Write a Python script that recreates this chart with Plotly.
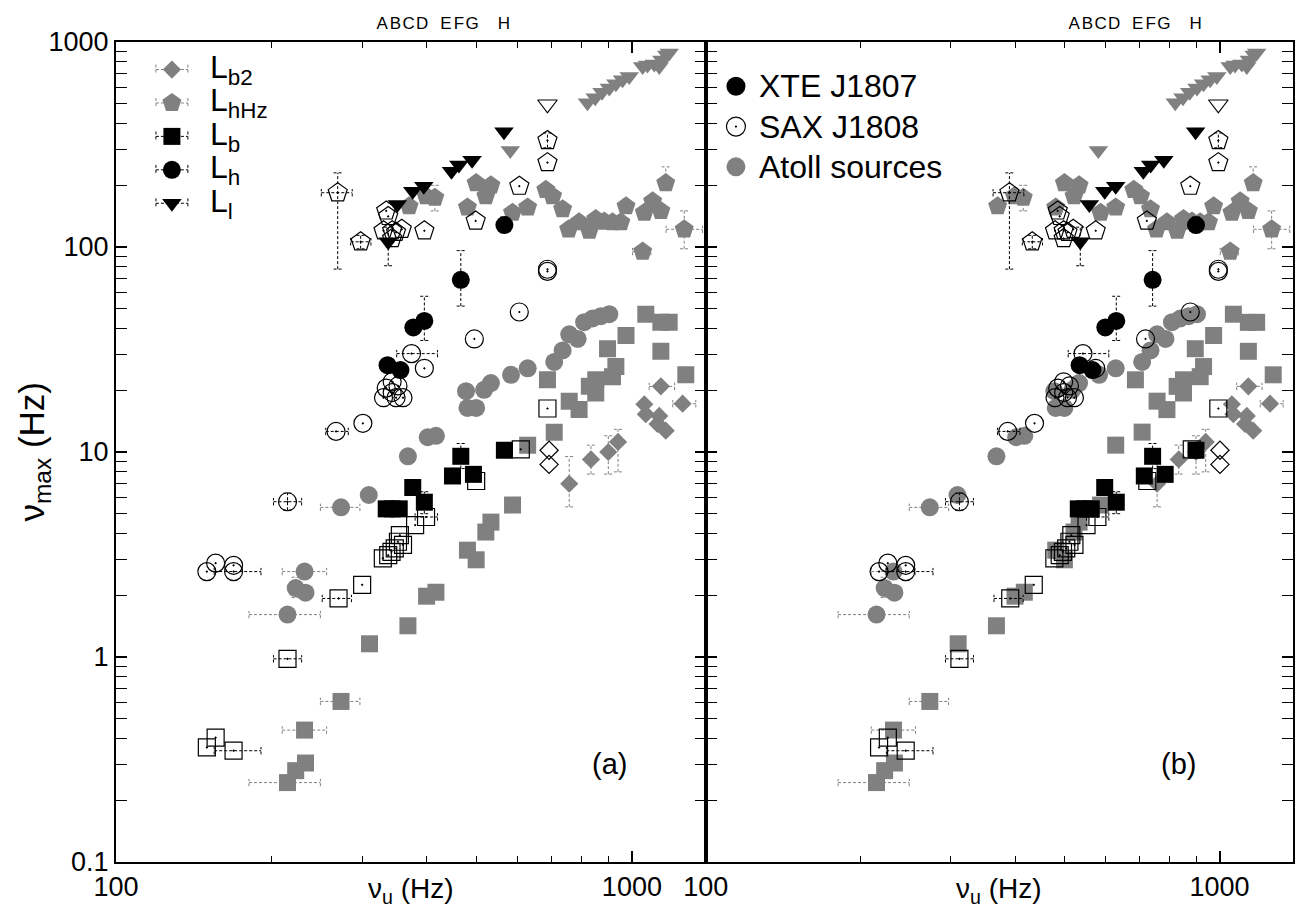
import numpy as np
import plotly.graph_objects as go

# ---------------- data ----------------
# Atoll sources (grey)
ATOLL_LB2_NU = [756, 833, 900, 940, 1057, 1064, 1121, 1130, 1138, 1163, 1254]
ATOLL_LB2_NMAX = [7.0, 9.2, 10.0, 11.2, 17.1, 15.3, 13.7, 15.0, 20.9, 12.7, 17.2]
ATOLL_LB2_ERR = {0: (None, None, 5.4, 9.5), 1: (None, None, 7.8, 10.8), 2: (None, None, 7.8, 12.0),
                 3: (None, None, 8.0, 12.9), 8: (1080, 1210, None, None), 10: (1200, 1330, None, None)}

ATOLL_LHHZ_NU = [370, 399, 415, 480, 499, 521, 533, 587, 628, 681, 702, 734, 754, 790, 827, 851,
                 884, 917, 952, 974, 1049, 1057, 1097, 1138, 1163, 1263]
ATOLL_LHHZ_NMAX = [158, 177, 174, 156, 205, 177, 200, 147, 156, 190, 177, 153, 122, 132, 120, 137,
                   133, 132, 132, 158, 95, 147, 167, 150, 205, 122]
ATOLL_LHHZ_ERR = {2: (None, None, 150, 200), 20: (1003, 1088, None, None),
                  25: (1165, 1370, 98, 150), 24: (None, None, 197, 246)}

ATOLL_LB_NU = [215, 223, 233, 232, 273, 310, 368, 400, 417, 480, 499, 521, 533, 587, 628, 707, 686,
               756, 790, 827, 851, 851, 917, 931, 897, 974, 1138, 1064, 1138, 1181, 1272]
ATOLL_LB_NMAX = [0.244, 0.279, 0.304, 0.44, 0.607, 1.16, 1.42, 1.98, 2.07, 3.32, 2.98, 4.07, 4.55,
                 5.51, 10.8, 12.5, 22.5, 17.7, 16.1, 20.9, 19.4, 22.5, 23.3, 26.1, 31.9, 37.0, 31.0,
                 47.0, 42.9, 42.9, 23.8]
ATOLL_LB_ERR = {0: (181, 249, None, None), 3: (210, 256, None, None), 4: (249, 297, None, None)}

ATOLL_LH_NU = [215, 223, 233, 232, 273, 309, 368, 402, 417, 477, 480, 499, 517, 533, 583, 628, 707,
               734, 756, 785, 808, 839, 871, 904]
ATOLL_LH_NMAX = [1.61, 2.17, 2.06, 2.61, 5.37, 6.17, 9.53, 11.8, 12.0, 19.8, 16.4, 16.4, 20.1, 21.7,
                 23.8, 25.6, 27.5, 31.3, 37.5, 35.6, 43.0, 44.8, 46.0, 47.0]
ATOLL_LH_ERR = {0: (181, 249, None, None), 3: (210, 256, None, None), 4: (249, 297, None, None),
                1: (None, None, 1.95, 2.45)}

ATOLL_LL_NU = [581, 820, 849, 875, 904, 931, 959, 988, 1049, 1072, 1105, 1130, 1143, 1168, 1181]
ATOLL_LL_NMAX = [296, 506, 535, 569, 597, 626, 655, 679, 759, 773, 781, 759, 817, 863, 885]
ATOLL_LL_ERR = {}

# XTE J1807 (black)
XTE_LB_NU = [334, 343, 354, 376, 396, 449, 466, 493, 566]
XTE_LB_NMAX = [5.28, 5.28, 5.28, 6.71, 5.69, 7.64, 9.53, 7.78, 10.2]
XTE_LB_ERR = {6: (None, None, 8.3, 11.0), 4: (None, None, 5.0, 6.4)}

XTE_LH_NU = [336, 356, 377, 396, 466, 566]
XTE_LH_NMAX = [26.5, 25.1, 40.5, 43.6, 69.2, 128]
XTE_LH_ERR = {3: (None, None, 35, 57.5), 4: (None, None, 51.5, 96), 5: (None, None, 118, 140)}

XTE_LL_NU = [337, 351, 376, 395, 447, 462, 490, 565]
XTE_LL_NMAX = [106, 161, 187, 198, 234, 251, 265, 365]
XTE_LL_ERR = {0: (None, None, 81, 125)}

# SAX J1808 (open)
SAX_LB2_NU = [691, 691]
SAX_LB2_NMAX = [10.2, 8.7]
SAX_LB2_ERR = {}

SAX_LHHZ_NU = [269, 298, 330, 334, 337, 343, 343, 349, 358, 396, 498, 605, 686, 686]
SAX_LHHZ_NMAX = [184, 106, 120, 150, 141, 120, 110, 118, 122, 120, 134, 198, 258, 331]
SAX_LHHZ_ERR = {0: (250, 287, 78, 230), 1: (285, 312, 98, 114), 13: (None, None, 305, 360)}

SAX_LB_NU = [150, 156, 169, 215, 270, 300, 329, 337, 342, 347, 352, 355, 360, 380, 399, 499, 609, 686]
SAX_LB_NMAX = [0.362, 0.404, 0.349, 0.98, 1.93, 2.25, 3.03, 3.14, 3.26, 3.39, 3.65, 3.93, 3.52, 4.4,
               4.82, 7.22, 10.3, 16.3]
SAX_LB_ERR = {2: (155, 191, None, None), 3: (202, 229, None, None), 4: (251, 286, None, None),
              14: (380, 420, None, None)}

SAX_LH_NU = [150, 156, 169, 169, 215, 267, 301, 330, 334, 343, 343, 349, 352, 360, 374, 396, 495,
             605, 686, 686]
SAX_LH_NMAX = [2.61, 2.87, 2.8, 2.61, 5.72, 12.6, 13.8, 18.4, 20.5, 19.5, 22.0, 18.4, 21.0, 18.4,
               30.2, 25.6, 35.6, 48.2, 77.9, 76.0]
SAX_LH_ERR = {3: (155, 191, None, None), 4: (202, 229, 5.2, 6.3), 5: (255, 282, None, None),
              14: (350, 420, None, None)}

SAX_LL_NU = [686]
SAX_LL_NMAX = [497]
SAX_LL_ERR = {}

# frequency shift factors applied in panel (b)
XTE_SHIFT = 1.59
SAX_SHIFT = 1.45

TOP_LETTERS = ["A", "B", "C", "D", "E", "F", "G", "H"]
TOP_NU = [328, 348, 369, 392, 436, 462, 490, 565]

X_TICKS = [100, 1000]
X_TICKTEXT = ["100", "1000"]
Y_TICKS = [0.1, 1, 10, 100, 1000]
Y_TICKTEXT = ["0.1", "1", "10", "100", "1000"]

LEG_A_LABELS = ["L<sub>b2</sub>", "L<sub>hHz</sub>", "L<sub>b</sub>", "L<sub>h</sub>", "L<sub>l</sub>"]
LEG_B_LABELS = ["XTE J1807", "SAX J1808", "Atoll sources"]

# ---------------- styling ----------------
VW, VH = 1309, 918          # browser window
BODY = 8                    # default body margin of the html page
W, H = VW - 2 * BODY, VH - 2 * BODY
PL, PR, PT, PB = 116, 1295, 28, 862   # plot-area edges in window pixels
ML, MR, MT, MB = PL - BODY, VW - BODY - PR, PT - BODY, VH - BODY - PB
GRAY = "#808080"
FONT = "Liberation Sans, Arial, sans-serif"
XR = [2, 3.143]
YR = [-1, 3]
SIZES = {"diamond": 14, "pentagon": 20, "square": 17, "circle": 18, "triangle-down": 17}
OPEN = {"diamond": "diamond-open", "pentagon": "pentagon-open-dot", "square": "square-open-dot",
        "circle": "circle-open-dot", "triangle-down": "triangle-down-open"}
CAPY = 0.018   # cap half-length in decades (y)
CAPX = 0.008   # cap half-length in decades (x)

SERIES = [
    ("atoll", "diamond", ATOLL_LB2_NU, ATOLL_LB2_NMAX, ATOLL_LB2_ERR),
    ("atoll", "pentagon", ATOLL_LHHZ_NU, ATOLL_LHHZ_NMAX, ATOLL_LHHZ_ERR),
    ("atoll", "square", ATOLL_LB_NU, ATOLL_LB_NMAX, ATOLL_LB_ERR),
    ("atoll", "circle", ATOLL_LH_NU, ATOLL_LH_NMAX, ATOLL_LH_ERR),
    ("atoll", "triangle-down", ATOLL_LL_NU, ATOLL_LL_NMAX, ATOLL_LL_ERR),
    ("xte", "square", XTE_LB_NU, XTE_LB_NMAX, XTE_LB_ERR),
    ("xte", "circle", XTE_LH_NU, XTE_LH_NMAX, XTE_LH_ERR),
    ("xte", "triangle-down", XTE_LL_NU, XTE_LL_NMAX, XTE_LL_ERR),
    ("sax", "diamond", SAX_LB2_NU, SAX_LB2_NMAX, SAX_LB2_ERR),
    ("sax", "pentagon", SAX_LHHZ_NU, SAX_LHHZ_NMAX, SAX_LHHZ_ERR),
    ("sax", "square", SAX_LB_NU, SAX_LB_NMAX, SAX_LB_ERR),
    ("sax", "circle", SAX_LH_NU, SAX_LH_NMAX, SAX_LH_ERR),
    ("sax", "triangle-down", SAX_LL_NU, SAX_LL_NMAX, SAX_LL_ERR),
]


def err_segments(nu, nmax, errs, shift):
    xs, ys = [], []
    cy, cx = 10 ** CAPY, 10 ** CAPX
    for i, (xlo, xhi, ylo, yhi) in errs.items():
        x0, y0 = nu[i] * shift, nmax[i]
        if xlo is not None or xhi is not None:
            a = (xlo if xlo is not None else nu[i]) * shift
            b = (xhi if xhi is not None else nu[i]) * shift
            xs += [a, b, None]; ys += [y0, y0, None]
            for e in ([a] if xlo is not None else []) + ([b] if xhi is not None else []):
                xs += [e, e, None]; ys += [y0 / cy, y0 * cy, None]
        if ylo is not None or yhi is not None:
            a = ylo if ylo is not None else y0
            b = yhi if yhi is not None else y0
            xs += [x0, x0, None]; ys += [a, b, None]
            for e in ([a] if ylo is not None else []) + ([b] if yhi is not None else []):
                xs += [x0 / cx, x0 * cx, None]; ys += [e, e, None]
    return xs, ys


fig = go.Figure()

for panel, (xa, ya) in enumerate([("x", "y"), ("x2", "y2")]):
    for group, sym, nu, nmax, errs in SERIES:
        shift = 1.0
        if panel == 1 and group == "xte":
            shift = XTE_SHIFT
        if panel == 1 and group == "sax":
            shift = SAX_SHIFT
        ecol = GRAY if group == "atoll" else "black"
        ex, ey = err_segments(nu, nmax, errs, shift)
        if ex:
            fig.add_trace(go.Scatter(x=ex, y=ey, mode="lines", xaxis=xa, yaxis=ya,
                                     line=dict(color=ecol, width=1, dash="3px,2px"),
                                     hoverinfo="skip", showlegend=False))
        xs = [v * shift for v in nu]
        if group == "sax":
            marker = dict(symbol=OPEN[sym], size=SIZES[sym], color="black",
                          line=dict(width=1.2, color="black"))
        else:
            marker = dict(symbol=sym, size=SIZES[sym], color=GRAY if group == "atoll" else "black",
                          line=dict(width=0))
        fig.add_trace(go.Scatter(x=xs, y=nmax, mode="markers", xaxis=xa, yaxis=ya,
                                 marker=marker, showlegend=False))

# top axes carrying the observation letters
fig.add_trace(go.Scatter(x=TOP_NU, y=[1] * len(TOP_NU), xaxis="x4", yaxis="y", mode="markers",
                         marker=dict(opacity=0), hoverinfo="skip", showlegend=False))
fig.add_trace(go.Scatter(x=[v * XTE_SHIFT for v in TOP_NU], y=[1] * len(TOP_NU), xaxis="x5",
                         yaxis="y2", mode="markers", marker=dict(opacity=0), hoverinfo="skip",
                         showlegend=False))

# ---------------- hand-made keys (pixel overlay axes x3/y3) ----------------
LEG_A_SYMS = [("diamond", GRAY), ("pentagon", GRAY), ("square", "black"), ("circle", "black"),
              ("triangle-down", "black")]
LA_X, LA_Y0, LA_DY, LA_TX = 172, 56, 34, 208
ex, ey, exg, eyg = [], [], [], []
for k, (sym, col) in enumerate(LEG_A_SYMS):
    yy = LA_Y0 + k * LA_DY
    seg_x = [LA_X - 16, LA_X + 16, None, LA_X - 16, LA_X - 16, None, LA_X + 16, LA_X + 16, None]
    seg_y = [yy, yy, None, yy - 5, yy + 5, None, yy - 5, yy + 5, None]
    if col == GRAY:
        exg += seg_x; eyg += seg_y
    else:
        ex += seg_x; ey += seg_y
fig.add_trace(go.Scatter(x=exg, y=eyg, mode="lines", xaxis="x3", yaxis="y3",
                         line=dict(color=GRAY, width=1, dash="3px,2px"), showlegend=False,
                         hoverinfo="skip"))
fig.add_trace(go.Scatter(x=ex, y=ey, mode="lines", xaxis="x3", yaxis="y3",
                         line=dict(color="black", width=1, dash="3px,2px"), showlegend=False,
                         hoverinfo="skip"))
for k, (sym, col) in enumerate(LEG_A_SYMS):
    yy = LA_Y0 + k * LA_DY
    fig.add_trace(go.Scatter(x=[LA_X], y=[yy], mode="markers", xaxis="x3", yaxis="y3",
                             marker=dict(symbol=sym, size=SIZES[sym], color=col, line=dict(width=0)),
                             showlegend=False, hoverinfo="skip"))
    fig.add_annotation(x=LA_TX, y=yy, xref="x3", yref="y3", text=LEG_A_LABELS[k], showarrow=False,
                       xanchor="left", yanchor="middle", font=dict(size=32, family=FONT, color="black"))

LEG_B_SYMS = [dict(symbol="circle", size=19, color="black", line=dict(width=0)),
              dict(symbol="circle-open-dot", size=19, color="black", line=dict(width=1.2, color="black")),
              dict(symbol="circle", size=19, color=GRAY, line=dict(width=0))]
LB_X, LB_Y0, LB_DY, LB_TX = 737, 73, 41, 758
for k, mk in enumerate(LEG_B_SYMS):
    yy = LB_Y0 + k * LB_DY
    fig.add_trace(go.Scatter(x=[LB_X], y=[yy], mode="markers", xaxis="x3", yaxis="y3", marker=mk,
                             showlegend=False, hoverinfo="skip"))
    fig.add_annotation(x=LB_TX, y=yy, xref="x3", yref="y3", text=LEG_B_LABELS[k], showarrow=False,
                       xanchor="left", yanchor="middle", font=dict(size=32, family=FONT, color="black"))

# ---------------- axes ----------------
common = dict(type="log", showline=True, linecolor="black", linewidth=2, mirror="allticks",
              ticks="inside", ticklen=11, tickwidth=1.5, tickcolor="black", showgrid=False,
              zeroline=False, tickfont=dict(size=27, family=FONT, color="black"),
              minor=dict(ticks="inside", ticklen=6, tickwidth=1, tickcolor="black", dtick="D1",
                         showgrid=False))
top_common = dict(type="log", range=XR, side="top", showline=False, showgrid=False, zeroline=False,
                  ticks="", tickmode="array", ticktext=TOP_LETTERS, ticklabelstandoff=9,
                  tickangle=0, tickfont=dict(size=17, family=FONT, color="black"))
DOM_A = [0, 0.501]
DOM_B = [0.501, 1]
fig.update_layout(
    xaxis=dict(domain=DOM_A, range=XR, anchor="y", tickmode="array", tickvals=X_TICKS,
               ticktext=X_TICKTEXT, **common),
    yaxis=dict(domain=[0, 1], range=YR, anchor="x", tickmode="array", tickvals=Y_TICKS,
               ticktext=Y_TICKTEXT, **common),
    xaxis2=dict(domain=DOM_B, range=XR, anchor="y2", tickmode="array", tickvals=X_TICKS,
                ticktext=X_TICKTEXT, **common),
    yaxis2=dict(domain=[0, 1], range=YR, anchor="x2", tickmode="array", tickvals=Y_TICKS,
                ticktext=Y_TICKTEXT, showticklabels=False, **common),
    xaxis3=dict(domain=[0, 1], range=[PL, PR], anchor="y3", visible=False, fixedrange=True),
    yaxis3=dict(domain=[0, 1], range=[PB, PT], anchor="x3", visible=False, fixedrange=True),
    xaxis4=dict(overlaying="x", anchor="y", tickvals=TOP_NU, **top_common),
    xaxis5=dict(overlaying="x2", anchor="y2", tickvals=[v * XTE_SHIFT for v in TOP_NU], **top_common),
    width=W, height=H, margin=dict(l=ML, r=MR, t=MT, b=MB, pad=0),
    paper_bgcolor="white", plot_bgcolor="rgba(0,0,0,0)", showlegend=False,
    font=dict(family=FONT, color="black"),
)

# axis titles
for dom in (DOM_A, DOM_B):
    fig.add_annotation(x=(dom[0] + dom[1]) / 2, y=-0.035, xref="paper", yref="paper",
                       text="\u03bd<sub>u</sub> (Hz)", showarrow=False, xanchor="center",
                       yanchor="middle", font=dict(size=28, family=FONT, color="black"))
fig.add_annotation(x=-0.07, y=0.5, xref="paper", yref="paper", text="\u03bd<sub>max</sub> (Hz)",
                   textangle=-90, showarrow=False, xanchor="center", yanchor="middle",
                   font=dict(size=35, family=FONT, color="black"))

# panel labels
fig.add_annotation(x=0.419, y=0.097, xref="paper", yref="paper", text="(a)", showarrow=False,
                   font=dict(size=29, family=FONT, color="black"))
fig.add_annotation(x=0.919, y=0.097, xref="paper", yref="paper", text="(b)", showarrow=False,
                   font=dict(size=29, family=FONT, color="black"))

fig.write_html("out.html")
